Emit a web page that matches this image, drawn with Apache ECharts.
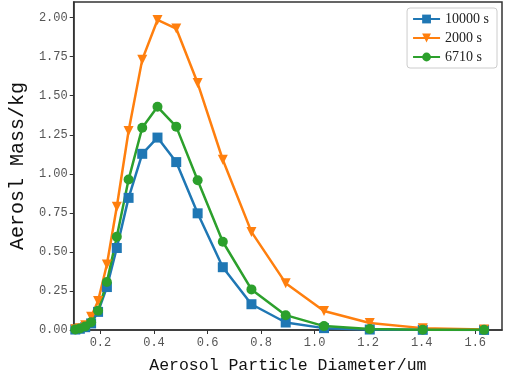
<!DOCTYPE html>
<html>
<head>
<meta charset="utf-8">
<script src="https://cdn.jsdelivr.net/npm/echarts@6/dist/echarts.min.js"></script>
<style>
html,body{margin:0;padding:0;background:#fff;}
#main{width:505px;height:379px;}
</style>
</head>
<body>
<div id="main"></div>
<script>
var diameters = [0.106, 0.123, 0.143, 0.165, 0.191, 0.224, 0.261, 0.305, 0.356, 0.413, 0.483, 0.563, 0.657, 0.764, 0.892, 1.035, 1.206, 1.404, 1.633];
var mass10000 = [0.003, 0.008, 0.018, 0.042, 0.116, 0.275, 0.525, 0.846, 1.128, 1.232, 1.075, 0.747, 0.402, 0.165, 0.048, 0.012, 0.003, 0.001, 0.0005];
var mass2000 = [0.005, 0.012, 0.03, 0.085, 0.186, 0.419, 0.789, 1.274, 1.731, 1.985, 1.93, 1.581, 1.09, 0.628, 0.300, 0.122, 0.045, 0.012, 0.003];
var mass6710 = [0.004, 0.01, 0.022, 0.05, 0.123, 0.307, 0.597, 0.963, 1.295, 1.429, 1.302, 0.959, 0.565, 0.260, 0.095, 0.025, 0.006, 0.002, 0.001];
var seriesNames = ['10000 s', '2000 s', '6710 s'];
var xTicks = [0.2, 0.4, 0.6, 0.8, 1.0, 1.2, 1.4, 1.6];
var yTicks = [0, 0.25, 0.5, 0.75, 1.0, 1.25, 1.5, 1.75, 2.0];

function pairs(xs, ys) {
    var out = [];
    for (var i = 0; i < xs.length; i++) {
        out.push([xs[i], ys[i]]);
    }
    return out;
}

var chart = echarts.init(document.getElementById('main'));
var monoFont = '"Liberation Mono", "DejaVu Sans Mono", monospace';
var option = {
    backgroundColor: '#fff',
    animation: false,
    grid: {
        left: 59,
        right: 3,
        top: 2,
        bottom: 46,
        show: true,
        borderColor: '#333',
        borderWidth: 1.5
    },
    legend: {
        right: 8,
        top: 8,
        orient: 'vertical',
        itemWidth: 27,
        itemHeight: 11,
        itemGap: 5,
        padding: [4, 8, 4, 5],
        backgroundColor: '#fff',
        borderColor: '#ccc',
        borderWidth: 1,
        borderRadius: 3,
        textStyle: {
            fontFamily: '"Liberation Serif", serif',
            fontSize: 14,
            color: '#222'
        },
        data: seriesNames
    },
    xAxis: {
        type: 'value',
        min: 0.1,
        max: 1.7,
        name: 'Aerosol Particle Diameter/um',
        nameLocation: 'middle',
        nameGap: 27,
        nameTextStyle: {
            fontFamily: monoFont,
            fontSize: 16.5,
            color: '#111'
        },
        splitLine: {show: false},
        axisLine: {onZero: false, lineStyle: {color: '#333', width: 1.5}},
        axisTick: {show: true, inside: false, length: 4, customValues: xTicks, lineStyle: {color: '#333'}},
        axisLabel: {
            customValues: xTicks,
            fontFamily: monoFont,
            fontSize: 12,
            color: '#555',
            margin: 7,
            formatter: function (v) { return v.toFixed(1); }
        }
    },
    yAxis: {
        type: 'value',
        min: 0,
        max: 2.1,
        name: 'Aerosl Mass/kg',
        nameLocation: 'middle',
        nameGap: 43,
        nameRotate: 90,
        nameTextStyle: {
            fontFamily: monoFont,
            fontSize: 20,
            color: '#111'
        },
        splitLine: {show: false},
        axisLine: {show: true, lineStyle: {color: '#333', width: 1.5}},
        axisTick: {show: true, inside: false, length: 4, customValues: yTicks, lineStyle: {color: '#333'}},
        axisLabel: {
            customValues: yTicks,
            fontFamily: monoFont,
            fontSize: 12,
            color: '#555',
            margin: 6,
            formatter: function (v) { return v.toFixed(2); }
        }
    },
    series: [
        {
            name: seriesNames[0],
            type: 'line',
            data: pairs(diameters, mass10000),
            symbol: 'rect',
            symbolSize: 10,
            color: '#1f77b4',
            lineStyle: {width: 2.5},
            itemStyle: {color: '#1f77b4'}
        },
        {
            name: seriesNames[1],
            type: 'line',
            data: pairs(diameters, mass2000),
            symbol: 'triangle',
            symbolRotate: 180,
            symbolSize: 10,
            color: '#ff7f0e',
            lineStyle: {width: 2.5},
            itemStyle: {color: '#ff7f0e'}
        },
        {
            name: seriesNames[2],
            type: 'line',
            data: pairs(diameters, mass6710),
            symbol: 'circle',
            symbolSize: 10,
            color: '#2ca02c',
            lineStyle: {width: 2.5},
            itemStyle: {color: '#2ca02c'}
        }
    ]
};
chart.setOption(option);
</script>
</body>
</html>
